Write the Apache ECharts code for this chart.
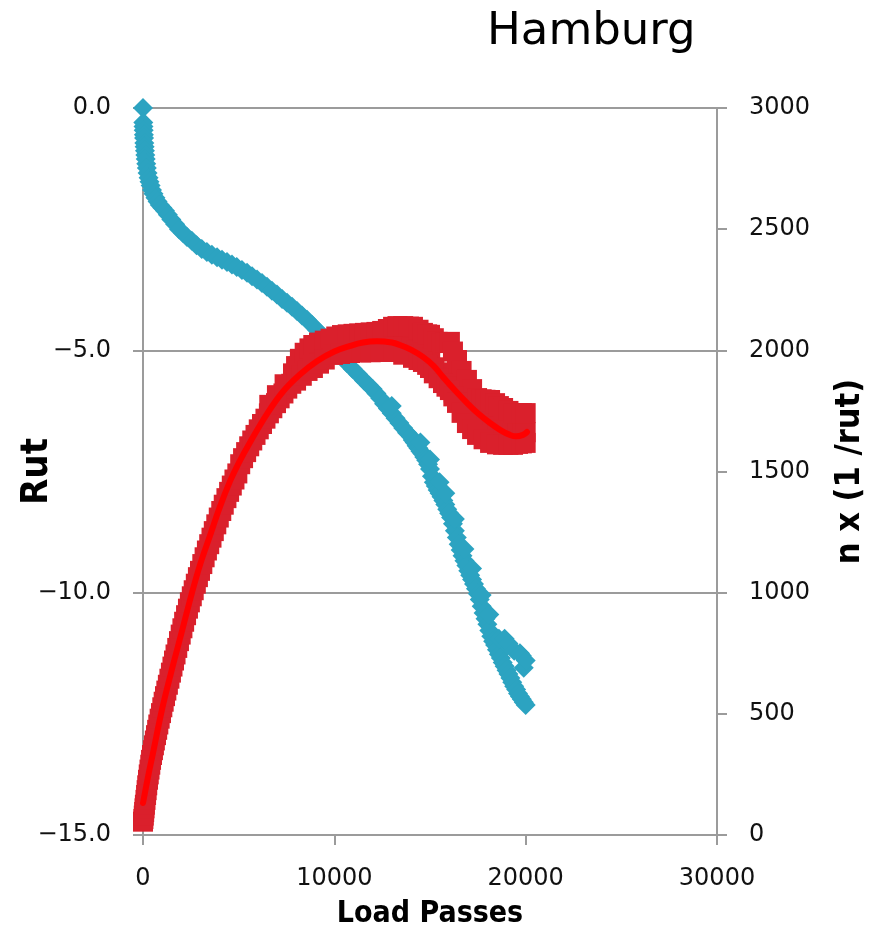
<!DOCTYPE html>
<html>
<head>
<meta charset="utf-8">
<script src="https://cdn.jsdelivr.net/npm/echarts@6/dist/echarts.min.js"></script>
<style>html,body{margin:0;padding:0;background:#fff;}#c{width:877px;height:926px;}</style>
</head>
<body>
<div id="c"></div>
<script>
// Rut (left axis) vs load passes — blue diamonds
const rutPoints = [
  [0,0.00],[15,-0.30],[25,-0.38],[35,-0.46],[45,-0.55],[55,-0.62],[70,-0.72],[85,-0.80],[100,-0.88],
  [120,-0.97],[140,-1.05],[170,-1.15],[200,-1.24],[240,-1.34],[290,-1.44],[340,-1.52],[400,-1.60],
  [470,-1.69],[550,-1.77],[650,-1.85],[760,-1.93],[880,-2.00],[1010,-2.06],[1150,-2.12],[1300,-2.20],
  [1480,-2.30],[1680,-2.40],[1880,-2.50],[2090,-2.58],[2300,-2.66],[2550,-2.74],[2800,-2.83],[3070,-2.91],
  [3340,-2.97],[3600,-3.03],[3870,-3.08],[4130,-3.13],[4390,-3.18],[4650,-3.23],[4900,-3.28],[5170,-3.34],
  [5440,-3.40],[5700,-3.47],[5960,-3.54],[6220,-3.61],[6480,-3.69],[6740,-3.77],[7000,-3.85],[7270,-3.94],
  [7530,-4.02],[7790,-4.10],[8050,-4.19],[8310,-4.28],[8570,-4.37],[8830,-4.47],[9090,-4.58],[9350,-4.68],
  [9620,-4.80],[9880,-4.92],[10150,-5.04],[10400,-5.15],[10660,-5.26],[10950,-5.38],[11250,-5.50],
  [11550,-5.62],[11800,-5.72],[12000,-5.80],[12200,-5.89],[12400,-5.99],[12600,-6.10],[12800,-6.20],
  [13000,-6.30],[13200,-6.40],[13400,-6.50],[13600,-6.60],[13800,-6.70],
  [14000,-6.78],[14100,-6.85],[14200,-6.90],[14300,-6.97],[14400,-7.02],[14500,-7.08],[14600,-7.13],
  [14700,-7.20],[14800,-7.27],[14900,-7.35],[15000,-7.45],[15100,-7.60],[15200,-7.72],[15300,-7.80],
  [15400,-7.88],[15500,-7.95],[15600,-8.02],[15700,-8.10],[15800,-8.18],[15900,-8.28],[16000,-8.36],
  [16100,-8.45],[16200,-8.58],[16300,-8.72],[16400,-8.86],[16500,-9.00],[16600,-9.12],[16700,-9.24],
  [16800,-9.34],[16900,-9.44],[17000,-9.55],[17100,-9.64],[17200,-9.73],[17300,-9.82],[17400,-9.92],
  [17500,-10.02],[17600,-10.14],[17700,-10.28],[17800,-10.42],[17900,-10.54],[18000,-10.65],[18100,-10.78],
  [18200,-10.90],[18300,-11.00],[18400,-11.08],[18500,-11.18],[18600,-11.27],[18700,-11.35],[18800,-11.44],
  [18900,-11.52],[19000,-11.60],[19100,-11.68],[19200,-11.76],[19300,-11.85],[19400,-11.93],[19500,-12.00],
  [19600,-12.08],[19700,-12.14],[19800,-12.20],[19900,-12.26],[20000,-12.32],
  [13000,-6.15],[14500,-6.90],[15000,-7.25],[15500,-7.72],[15800,-7.95],[16300,-8.48],[16800,-9.10],
  [17200,-9.50],[17700,-10.05],[18100,-10.45],[18600,-10.95],[18900,-10.95],[19100,-11.05],[19400,-11.20],
  [19700,-11.25],[19800,-11.30],[19900,-11.55],[20000,-11.40]
];

// n x (1/rut) (right axis) — red squares
const nRutPoints = [
  [0,55],[20,66],[40,80],[60,95],[80,110],[100,125],[130,145],[160,165],[190,185],[220,205],[260,228],
  [300,250],[340,270],[380,290],[420,310],[470,330],[520,350],[570,370],[620,390],[680,412],[740,434],
  [800,456],[870,480],[940,503],[1010,527],[1080,550],[1150,573],[1220,596],[1300,620],[1380,645],
  [1460,670],[1540,695],[1620,720],[1700,745],[1790,772],[1880,800],[1970,827],[2060,853],[2150,880],
  [2250,907],[2350,934],[2450,960],[2550,985],[2650,1010],[2760,1037],[2870,1064],[2980,1090],[3100,1118],
  [3220,1146],[3340,1174],[3460,1200],[3580,1227],[3700,1254],[3830,1282],[3960,1310],[4090,1337],
  [4220,1363],[4360,1390],[4500,1416],[4640,1442],[4780,1467],[4930,1492],[5080,1530],[5230,1555],
  [5390,1580],[5550,1604],[5710,1628],[5880,1651],[6050,1674],[6220,1696],[6400,1718],[6580,1740],
  [6760,1761],[6950,1782],[7140,1802],[7340,1822],[7540,1842],[7750,1862],[7960,1881],[8180,1900],
  [8400,1918],[8630,1935],[8860,1951],[9100,1966],[9340,1980],[9590,1993],[9840,2004],[10100,2014],
  [10360,2022],[10630,2029],[10900,2034],[11180,2038],[11460,2040],[11750,2042],[12040,2043],[12330,2043],
  [12620,2042],[12910,2041],[13200,2038],[13480,2032],[13760,2024],[14030,2013],[14290,2000],[14540,1985],
  [14780,1968],[15010,1950],[15230,1930],[15440,1909],[15640,1888],[15840,1867],[16040,1846],[16240,1826],
  [16450,1806],[16660,1787],[16880,1769],[17100,1752],[17330,1736],[17560,1721],[17800,1707],[18040,1695],
  [18290,1684],[18540,1675],[18800,1668],[19060,1663],[19320,1660],[19580,1659],[19840,1660],[20000,1662],
  [6600,1775],[7000,1815],[7400,1860],[7840,1905],
  [8000,1935],[8200,1965],[8450,1990],[8700,2008],[8900,2022],[9200,2032],[9500,2040],[9800,2048],[10100,2057],
  [10400,2063],[10700,2066],[11000,2068],[11300,2070],[11600,2072],[11900,2074],[12200,2076],[12500,2080],
  [12800,2088],[13070,2097],[13300,2100],[13600,2100],[13900,2098],[14110,2097],[14400,2085],[14630,2072],
  [14850,2066],[15000,2064],[15200,2050],[15400,2035],[15600,2030],[15800,2032],[16040,2035],[16200,1995],
  [16410,1960],[16650,1915],[16930,1878],[17200,1840],[17460,1803],[17700,1798],[17900,1796],[18140,1795],
  [18400,1782],[18600,1770],[18820,1762],[19100,1750],[19340,1741],[19600,1741],[19800,1741],[20000,1741],
  [8000,1875],[8300,1895],[8600,1915],[8880,1927],[9200,1945],[9500,1962],[9930,1981],[10300,1985],
  [10820,1989],[11400,1991],[11900,1992],[12390,1993],[13070,1993],[13600,1982],[14110,1969],[14400,1960],
  [14630,1952],[14850,1940],[15000,1927],[15200,1905],[15450,1885],[15680,1865],[15860,1850],[16040,1836],
  [16220,1810],[16410,1783],[16650,1742],[16930,1700],[17200,1675],[17460,1651],[17800,1633],[18140,1618],
  [18500,1612],[18820,1610],[19100,1610],[19340,1610],[19600,1614],[19800,1616],[20000,1618]
];

// smooth fit line (right axis)
const fitPoints = [
  [0,132],[250,235],[500,330],[1000,520],[1500,680],[2000,830],[2560,1000],[3000,1120],[3500,1235],
  [4000,1350],[4550,1460],[5000,1535],[5590,1620],[6500,1740],[7320,1830],[8200,1900],[9090,1955],
  [10000,1995],[10820,2018],[11500,2032],[12230,2037],[13000,2032],[13430,2022],[14000,2003],[14630,1973],
  [15200,1935],[15680,1890],[16300,1835],[16930,1783],[17500,1740],[18140,1700],[18700,1670],[19180,1651],
  [19500,1645],[19860,1651],[20070,1663]
];

const xTicks = [0, 10000, 20000, 30000];
const rutTicks = [-15, -10, -5, 0];
const nTicks = [0, 500, 1000, 1500, 2000, 2500, 3000];

const gray = '#9b9b9b';
const labelFont = { fontFamily: 'DejaVu Sans', fontSize: 24, color: '#111' };
const nameFont = { fontFamily: 'DejaVu Sans Condensed, DejaVu Sans', fontWeight: 'bold', color: '#000' };

const chart = echarts.init(document.getElementById('c'), null, { renderer: 'canvas' });
chart.setOption({
  animation: false,
  backgroundColor: '#fff',
  title: {
    text: 'Hamburg', left: 482, top: 5,
    textStyle: { fontFamily: 'DejaVu Sans', fontSize: 45, fontWeight: 'normal', color: '#000' }
  },
  grid: { left: 143, right: 160, top: 108, bottom: 91, containLabel: false, outerBoundsMode: 'none' },
  xAxis: {
    type: 'value', min: xTicks[0], max: xTicks[xTicks.length - 1], interval: 10000,
    name: 'Load Passes', nameLocation: 'middle', nameGap: 64, nameMoveOverlap: false,
    nameTextStyle: Object.assign({ fontSize: 30 }, nameFont),
    axisLine: { show: true, onZero: false, lineStyle: { color: gray, width: 2 } },
    axisTick: { show: true, length: 10, lineStyle: { color: gray, width: 2 } },
    axisLabel: Object.assign({ margin: 32, formatter: v => String(v) }, labelFont),
    splitLine: { show: false }
  },
  yAxis: [
    {
      type: 'value', position: 'left', min: rutTicks[0], max: rutTicks[rutTicks.length - 1], interval: 5,
      name: 'Rut', nameLocation: 'middle', nameGap: 87, nameRotate: 90, nameMoveOverlap: false,
      nameTextStyle: Object.assign({ fontSize: 38 }, nameFont),
      axisLine: { show: true, onZero: false, lineStyle: { color: gray, width: 2 } },
      axisTick: { show: true, length: 10, lineStyle: { color: gray, width: 2 } },
      axisLabel: Object.assign({ margin: 32, formatter: v => (v < 0 ? '\u2212' : '') + Math.abs(v).toFixed(1) }, labelFont),
      splitLine: { show: true, lineStyle: { color: gray, width: 2 } }
    },
    {
      type: 'value', position: 'right', min: nTicks[0], max: nTicks[nTicks.length - 1], interval: 500,
      name: 'n x (1 /rut)', nameLocation: 'middle', nameGap: 116, nameRotate: 90, nameMoveOverlap: false,
      nameTextStyle: Object.assign({ fontSize: 34 }, nameFont),
      axisLine: { show: true, onZero: false, lineStyle: { color: gray, width: 2 } },
      axisTick: { show: true, length: 10, lineStyle: { color: gray, width: 2 } },
      axisLabel: Object.assign({ margin: 32, formatter: v => String(v) }, labelFont),
      splitLine: { show: false }
    }
  ],
  series: [
    {
      type: 'scatter', yAxisIndex: 0, data: rutPoints, symbol: 'diamond', symbolSize: 20,
      itemStyle: { color: '#2ca3c1', opacity: 1 }, z: 2
    },
    {
      type: 'scatter', yAxisIndex: 1, data: nRutPoints, symbol: 'rect', symbolSize: 20,
      itemStyle: { color: '#da202c', opacity: 1 }, z: 3
    },
    {
      type: 'line', yAxisIndex: 1, data: fitPoints, smooth: 0.4, showSymbol: false, symbol: 'none',
      lineStyle: { color: '#ff0000', width: 6, cap: 'round' }, z: 4
    }
  ]
});
</script>
</body>
</html>
